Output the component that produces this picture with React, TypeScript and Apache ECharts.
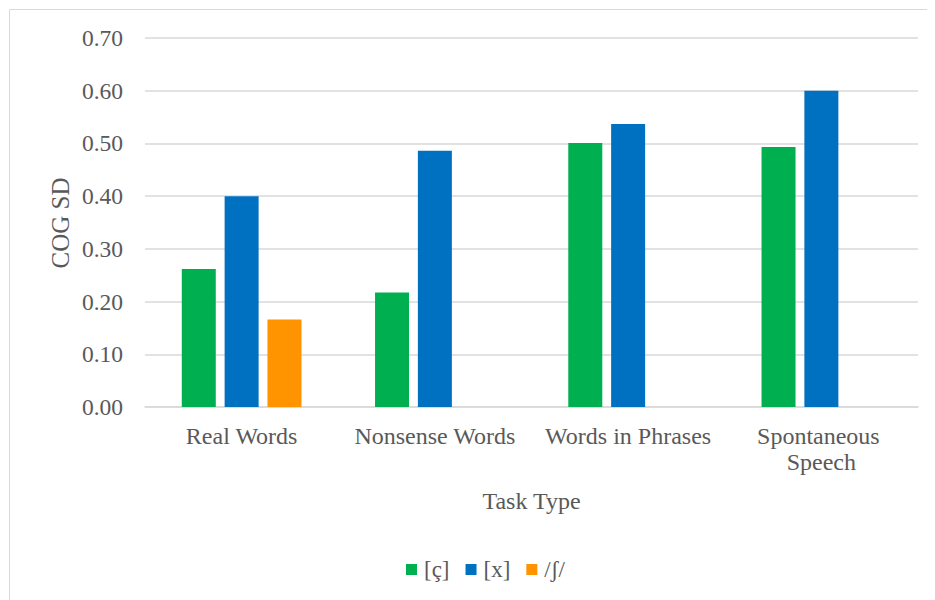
import React, { useEffect, useRef } from "react";
import * as echarts from "echarts";

const categories = ["Real Words", "Nonsense Words", "Words in Phrases", "Spontaneous Speech"];
const seriesNames = ["[ç]", "[x]", "/ʃ/"];
const palatalValues = [0.262, 0.217, 0.501, 0.493];
const velarValues = [0.4, 0.486, 0.537, 0.6];
const postalveolarValues: (number | null)[] = [0.166, null, null, null];
const colors = ["#00B050", "#0070C0", "#FF9300"];

const FONT = "Liberation Serif";
const TEXT = "#595959";

export default function App() {
  const ref = useRef<HTMLDivElement>(null);
  useEffect(() => {
    if (!ref.current) return;
    const chart = echarts.init(ref.current, null, { renderer: "svg" });
    const values = [palatalValues, velarValues, postalveolarValues];
    chart.setOption({
      animation: false,
      backgroundColor: "#ffffff",
      textStyle: { fontFamily: FONT },
      grid: { left: 137, right: 17, top: 30, bottom: 193, containLabel: false },
      legend: {
        left: 393,
        top: 545,
        itemWidth: 11,
        itemHeight: 11,
        itemGap: 16,
        icon: "rect",
        data: seriesNames,
        textStyle: { fontFamily: FONT, fontSize: 23, color: TEXT, padding: [0, 0, 0, 2] },
      },
      xAxis: {
        type: "category",
        data: categories,
        axisLine: { lineStyle: { color: "#d9d9d9", width: 1.5 } },
        axisTick: { show: false },
        axisLabel: {
          fontFamily: FONT,
          fontSize: 24,
          color: TEXT,
          margin: 16,
          width: 185,
          overflow: "break",
          lineHeight: 26,
          interval: 0,
        },
        name: "Task Type",
        nameLocation: "middle",
        nameGap: 82,
        nameTextStyle: { fontFamily: FONT, fontSize: 24, color: TEXT },
      },
      yAxis: {
        type: "value",
        min: 0,
        max: 0.7,
        interval: 0.1,
        axisLine: { show: false },
        axisTick: { show: false },
        splitLine: { lineStyle: { color: "#d9d9d9", width: 1.5 } },
        axisLabel: {
          fontFamily: FONT,
          fontSize: 23.5,
          color: TEXT,
          margin: 22,
          formatter: (v: number) => v.toFixed(2),
        },
      },
      graphic: [
        {
          type: "rect",
          shape: { x: 1.5, y: 1.5, width: 1000, height: 700 },
          style: { fill: "none", stroke: "#d9d9d9", lineWidth: 1 },
          silent: true,
        },
        {
          type: "text",
          x: 52,
          y: 215,
          rotation: Math.PI / 2,
          style: {
            text: "COG SD",
            fontFamily: FONT,
            fontSize: 25,
            fill: TEXT,
            align: "center",
            verticalAlign: "middle",
          },
        },
      ],
      series: seriesNames.map((name, i) => ({
        name,
        type: "bar",
        data: values[i],
        barWidth: 34,
        barGap: "26%",
        itemStyle: { color: colors[i] },
      })),
    });
    return () => chart.dispose();
  }, []);
  return <div ref={ref} style={{ width: 927, height: 592 }} />;
}
